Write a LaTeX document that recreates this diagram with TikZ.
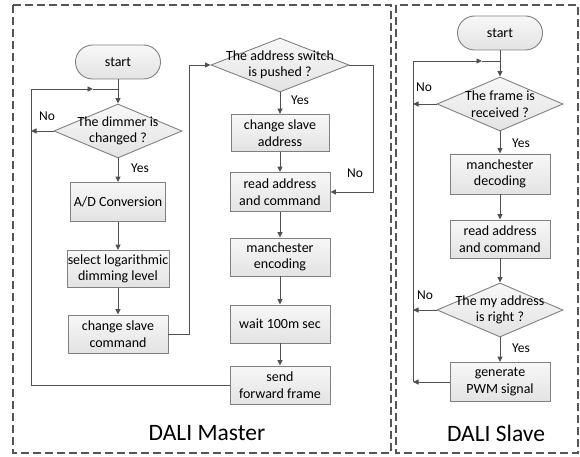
\documentclass[tikz,border=0pt]{standalone}
\usepackage{fontspec}
\setmainfont{Carlito}
\usetikzlibrary{arrows.meta,shapes.geometric}
\definecolor{bord}{HTML}{808080}
\definecolor{conn}{HTML}{505050}
\definecolor{framec}{HTML}{555555}
\begin{document}
\begin{tikzpicture}[x=1pt,y=-1pt,
  frame/.style={draw=framec,line width=1.3pt,dash pattern=on 8pt off 4pt},
  box/.style={draw=bord,line width=0.9pt,top color=gray!6,bottom color=gray!22,
    minimum width=100pt,minimum height=38pt,inner sep=0pt,align=center,
    font=\fontsize{14}{16.5}\selectfont},
  term/.style={box,minimum width=85pt,minimum height=34pt,rounded corners=17pt},
  dia/.style={diamond,draw=bord,line width=0.9pt,top color=gray!6,bottom color=gray!22,
    inner sep=0pt},
  txt/.style={align=center,font=\fontsize{14}{16.5}\selectfont},
  lab/.style={font=\fontsize{13.5}{16}\selectfont},
  big/.style={font=\fontsize{23.5}{28}\selectfont},
  arr/.style={draw=conn,line width=0.9pt,-{Triangle[length=5.5pt,width=5pt]}},
  ln/.style={draw=conn,line width=0.9pt}]
\useasboundingbox (0,0) rectangle (580,457);
\draw[frame] (13,5) rectangle (391,453);
\draw[frame] (396,5) rectangle (578,453);

% ---------- master, left column
\node[term] (start1) at (118,62) {start};
\node[dia,minimum width=128pt,minimum height=54pt] (d1) at (118,131) {};
\node[txt] (d1t) at (d1) {The dimmer is\\changed ?};
\node[box,minimum width=95pt,minimum height=39pt] (ad) at (118,202) {A/D Conversion};
\node[box,minimum width=102pt,minimum height=37pt] (sel) at (118,269) {select logarithmic\\dimming level};
\node[box] (csc) at (118,334) {change slave\\command};

% ---------- master, right column
\node[dia,minimum width=138pt,minimum height=54pt] (d2) at (280,65) {};
\node[txt] (d2t) at (d2) {The address switch\\is pushed ?};
\node[box,minimum width=98pt,minimum height=37pt] (csa) at (280,133) {change slave\\address};
\node[box,minimum height=39pt] (rac) at (280,192) {read address\\and command};
\node[box] (me) at (280,257) {manchester\\encoding};
\node[box] (wt) at (280,324) {wait 100m sec};
\node[box] (sff) at (280,385) {send\\forward frame};

\node[lab] (no1) at (47,116) {No};
\node[lab] (yes1) at (140,168) {Yes};
\node[lab] (yes2) at (300,100) {Yes};
\node[lab] (no2) at (355,173) {No};
\node[big] (mt) at (207,433) {DALI Master};

\coordinate (j1) at (118,89);
\coordinate (l1) at (31,89);
\coordinate (m1) at (93,89);
\coordinate (l1b) at (31,385);
\coordinate (n1) at (31,131);
\coordinate (c1) at (189,65);
\coordinate (c2) at (373,65);

\draw[arr] (start1.south) -- (d1.north);
\draw[arr] (d1.west) -- (n1);
\draw[arr] (d1.south) -- (ad.north);
\draw[arr] (ad.south) -- (sel.north);
\draw[arr] (sel.south) -- (csc.north);
\draw[arr] (csc.east) -| (c1) -- (d2.west);
\draw[arr] (d2.south) -- (csa.north);
\draw[arr] (csa.south) -- (rac.north);
\draw[arr] (d2.east) -- (c2) -- (c2 |- rac.east) -- (rac.east);
\draw[arr] (rac.south) -- (me.north);
\draw[arr] (me.south) -- (wt.north);
\draw[arr] (wt.south) -- (sff.north);
\draw[ln] (sff.west) -- (l1b) -- (l1);
\draw[arr] (l1) -- (m1);
\draw[ln] (m1) -- (j1);

% ---------- slave
\node[term] (start2) at (500,33) {start};
\node[dia,minimum width=126pt,minimum height=54pt] (d3) at (500,104) {};
\node[txt] (d3t) at (d3) {The frame is\\received ?};
\node[box,minimum height=40pt] (mdec) at (500,174) {manchester\\decoding};
\node[box] (rac2) at (500,239) {read address\\and command};
\node[dia,minimum width=126pt,minimum height=54pt] (d4) at (500,310) {};
\node[txt] (d4t) at (d4) {The my address\\is right ?};
\node[box,minimum height=39pt] (gen) at (500,382) {generate\\PWM signal};

\node[lab] (no3) at (424,87) {No};
\node[lab] (yes3) at (521,143) {Yes};
\node[lab] (no4) at (425,295) {No};
\node[lab] (yes4) at (521,348) {Yes};
\node[big] (st) at (496,433) {DALI Slave};

\coordinate (j2) at (500,61);
\coordinate (l2) at (413,61);
\coordinate (m2) at (482,61);
\coordinate (l2b) at (413,382);

\draw[arr] (start2.south) -- (d3.north);
\draw[arr] (d3.west) -- (d3.west -| l2);
\draw[arr] (d3.south) -- (mdec.north);
\draw[arr] (mdec.south) -- (rac2.north);
\draw[arr] (rac2.south) -- (d4.north);
\draw[arr] (d4.west) -- (d4.west -| l2);
\draw[arr] (d4.south) -- (gen.north);
\draw[arr] (gen.west) -- (l2b);
\draw[ln] (l2b) -- (l2);
\draw[arr] (l2) -- (m2);
\draw[ln] (m2) -- (j2);
\end{tikzpicture}
\end{document}
